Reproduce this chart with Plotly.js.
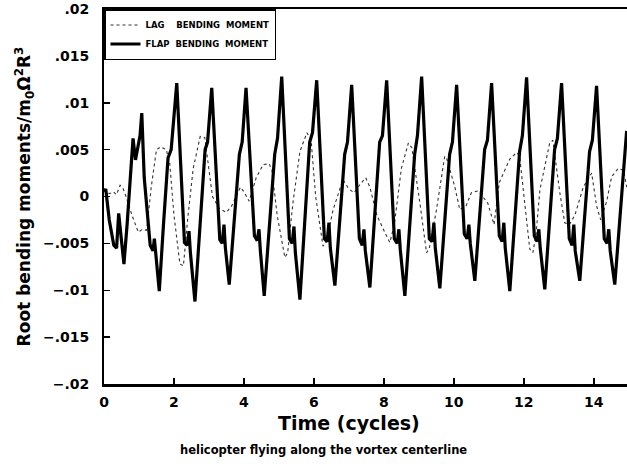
<!DOCTYPE html>
<html>
<head>
<meta charset="utf-8">
<script src="https://cdn.plot.ly/plotly-3.0.1.min.js"></script>
<style>html,body{margin:0;padding:0;background:#fff;}#chart{width:627px;height:466px;}</style>
</head>
<body>
<div id="chart"></div>
<script>
// FLAP bending moment (solid)
const flapX = [0,0.05,0.15,0.28,0.36,0.42,0.48,0.57,0.66,0.75,0.83,0.9,0.97,1.03,1.08,
  1.15,1.32,1.4,1.44,1.48,1.58,1.7,1.83,1.92,2.08,
  2.3,2.38,2.43,2.47,2.6,2.89,2.96,3.08,
  3.31,3.38,3.43,3.47,3.58,3.87,3.95,4.06,
  4.3,4.38,4.43,4.47,4.58,4.88,4.96,5.08,
  5.3,5.38,5.43,5.47,5.6,5.88,5.96,6.08,
  6.3,6.38,6.43,6.47,6.6,6.88,6.96,7.08,
  7.3,7.38,7.43,7.47,7.6,7.88,7.96,8.08,
  8.3,8.38,8.43,8.47,8.6,8.88,8.96,9.08,
  9.3,9.38,9.43,9.47,9.6,9.88,9.96,10.08,
  10.3,10.38,10.43,10.47,10.6,10.88,10.96,11.08,
  11.3,11.38,11.43,11.47,11.6,11.88,11.96,12.08,
  12.3,12.38,12.43,12.47,12.6,12.88,12.96,13.08,
  13.3,13.38,13.43,13.47,13.6,13.88,13.96,14.08,
  14.3,14.38,14.43,14.47,14.6,14.85,14.94];
const flapY = [0.0005,0.0008,-0.0025,-0.0052,-0.0055,-0.0018,-0.004,-0.0072,-0.003,0.002,0.0062,0.0039,0.0055,0.0065,0.0089,
  0.002,-0.0052,-0.0058,-0.0045,-0.0062,-0.0101,-0.003,0.0041,0.005,0.0121,
  -0.0049,-0.0052,-0.0037,-0.006,-0.0112,0.005,0.0058,0.0116,
  -0.0046,-0.005,-0.003,-0.0055,-0.0094,0.0045,0.0058,0.0116,
  -0.0042,-0.0047,-0.0035,-0.0058,-0.0106,0.0045,0.0062,0.0128,
  -0.0045,-0.005,-0.0032,-0.006,-0.011,0.0058,0.0068,0.0124,
  -0.0045,-0.0048,-0.0028,-0.0055,-0.0095,0.0045,0.0058,0.0119,
  -0.0045,-0.0052,-0.0035,-0.0058,-0.0097,0.0058,0.0065,0.0124,
  -0.0045,-0.005,-0.0035,-0.0057,-0.0106,0.0045,0.0065,0.0128,
  -0.0045,-0.0048,-0.0028,-0.0055,-0.0098,0.0045,0.0058,0.0119,
  -0.004,-0.0045,-0.003,-0.005,-0.009,0.005,0.006,0.0121,
  -0.0042,-0.0048,-0.0028,-0.0055,-0.0101,0.0048,0.0065,0.0127,
  -0.0042,-0.0048,-0.0035,-0.0055,-0.0099,0.005,0.0062,0.0121,
  -0.0045,-0.0052,-0.003,-0.0058,-0.009,0.0048,0.006,0.0118,
  -0.0045,-0.005,-0.0035,-0.0058,-0.0094,0.0035,0.007];

// LAG bending moment (dotted)
const lagX = [0,0.15,0.27,0.36,0.46,0.55,0.62,0.8,0.98,1.1,1.22,1.35,1.5,1.62,1.78,1.88,2.0,2.17,2.27,2.4,2.55,2.75,2.88,
  3.1,3.3,3.5,3.65,3.9,4.0,4.15,4.35,4.55,4.72,4.8,4.95,5.17,5.25,5.4,5.6,5.8,5.92,
  6.05,6.26,6.35,6.55,6.83,7.0,7.15,7.3,7.48,7.6,7.8,8.05,8.17,8.3,8.5,8.7,8.8,
  9.03,9.22,9.3,9.5,9.74,9.8,10.03,10.17,10.35,10.5,10.7,10.97,11.15,11.3,11.6,11.8,11.88,
  12.0,12.17,12.26,12.35,12.46,12.74,12.83,13.03,13.17,13.3,13.46,13.7,13.94,14.08,14.2,14.37,14.51,14.7,14.85,14.94];
const lagY = [0.0008,0.0003,0.0005,0.0002,0.0012,0.0008,0.0001,-0.002,-0.0038,-0.0035,-0.0036,0.001,0.005,0.0053,0.005,0.0035,-0.002,-0.0072,-0.0074,-0.0021,0.003,0.0064,0.0063,
  0.0,-0.0013,-0.0017,-0.001,0.001,0.0005,-0.0005,0.002,0.0034,0.0035,0.0028,-0.002,-0.0065,-0.006,-0.0007,0.0048,0.0068,0.006,
  0.0,-0.0053,-0.0048,-0.0014,0.0018,0.0008,0.0004,0.0012,0.002,0.001,-0.002,-0.004,-0.0049,-0.003,0.003,0.0057,0.0052,
  -0.0007,-0.006,-0.0055,-0.0015,0.0043,0.004,0.001,-0.0014,-0.001,0.0004,0.0006,-0.0007,-0.003,0.0015,0.004,0.0047,0.0043,
  0.0,-0.0056,-0.006,-0.004,0.0007,0.0057,0.006,0.0004,-0.0028,-0.003,-0.002,0.001,0.0025,-0.001,-0.0025,-0.0005,0.0021,0.003,0.0028,0.001];

const yTickVals = [-0.02,-0.015,-0.01,-0.005,0,0.005,0.01,0.015,0.02];
const yTickText = ['\u2212.02','\u2212.015','\u2212.01','\u2212.005','0','.005','.01','.015','.02'];
const xTickVals = [0,2,4,6,8,10,12,14];
const xTickText = ['0','2','4','6','8','10','12','14'];

const tickFont = {family:'DejaVu Sans', size:14, color:'#000', weight:'bold'};

const traces = [
  {x: lagX, y: lagY, type:'scatter', mode:'lines', name:'LAG\u00a0\u00a0\u00a0 BENDING\u00a0 MOMENT',
   line:{color:'#333', width:1.1, dash:'dot'}},
  {x: flapX, y: flapY, type:'scatter', mode:'lines', name:'FLAP\u00a0 BENDING\u00a0 MOMENT',
   line:{color:'#000', width:3.2}}
];

const layout = {
  width:627, height:466,
  margin:{l:104, r:0, t:9, b:82},
  paper_bgcolor:'#fff', plot_bgcolor:'#fff',
  showlegend:true,
  legend:{x:0, y:1, xanchor:'left', yanchor:'top', bgcolor:'#fff',
    bordercolor:'#000', borderwidth:1.5,
    font:{family:'DejaVu Sans', size:8.5, color:'#000', weight:'bold'},
    tracegroupgap:0, itemwidth:30},
  xaxis:{range:[0,14.95], showgrid:false, zeroline:false,
    showline:true, linecolor:'#000', linewidth:2.5, mirror:true,
    ticks:'inside', ticklen:6, tickwidth:1.5, tickcolor:'#000',
    tickvals:xTickVals, ticktext:xTickText, tickfont:tickFont, ticklabelstandoff:4},
  yaxis:{range:[-0.02,0.02], showgrid:false, zeroline:false,
    showline:true, linecolor:'#000', linewidth:2, 
    ticks:'inside', ticklen:6, tickwidth:1.5, tickcolor:'#000',
    tickvals:yTickVals, ticktext:yTickText, tickfont:tickFont, ticklabelstandoff:10,
    title:{text:'Root bending moments/m<sub>0</sub>\u03a9<sup>2</sup>R<sup>3</sup>', font:{family:'DejaVu Sans', size:17, color:'#000', weight:'bold'}, standoff:8}},
  annotations:[
    {text:'Time (cycles)', xref:'paper', yref:'paper',
    x:(349-104)/523, y:0, yshift:-26, xanchor:'center', yanchor:'top', showarrow:false,
    font:{family:'DejaVu Sans', size:19, color:'#000', weight:'bold'}},
    {text:'helicopter flying along the vortex centerline', xref:'paper', yref:'paper',
    x:(323-104)/523, y:0, yshift:-57, xanchor:'center', yanchor:'top', showarrow:false,
    font:{family:'DejaVu Sans', size:11.5, color:'#000', weight:'bold'}}]
};

Plotly.newPlot('chart', traces, layout, {displayModeBar:false, staticPlot:true});
</script>
</body>
</html>
